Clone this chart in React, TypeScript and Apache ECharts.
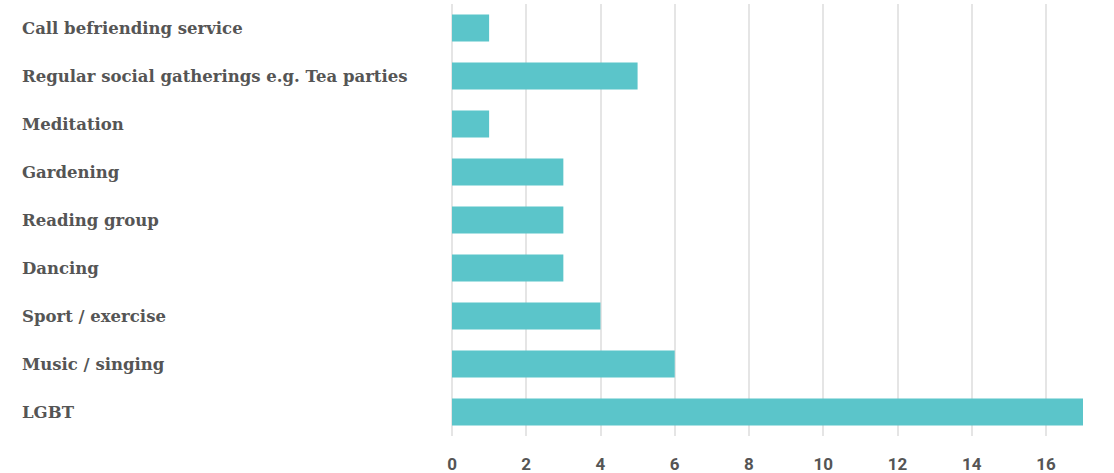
import React, { useEffect, useRef } from "react";
import * as echarts from "echarts";

const categories = [
  "Call befriending service",
  "Regular social gatherings e.g. Tea parties",
  "Meditation",
  "Gardening",
  "Reading group",
  "Dancing",
  "Sport / exercise",
  "Music / singing",
  "LGBT",
];
const values = [1, 5, 1, 3, 3, 3, 4, 6, 17];

export default function App() {
  const ref = useRef<HTMLDivElement>(null);
  useEffect(() => {
    const chart = echarts.init(ref.current!, null, { renderer: "svg" });
    const lineColors = ["#dcdcdc", "#dcdcdc", "#dcdcdc", "#dcdcdc", "#dcdcdc", "#dcdcdc", "#dcdcdc", "#dcdcdc", "#dcdcdc", "rgba(0,0,0,0)"];
    chart.setOption({
      animation: false,
      grid: { left: 452, right: 31, top: 4, height: 432, containLabel: false },
      xAxis: {
        type: "value",
        min: 0,
        max: 17,
        interval: 2,
        axisLine: { show: false },
        axisTick: { show: false },
        splitLine: { show: true, lineStyle: { color: lineColors, width: 1.5 } },
        axisLabel: {
          showMaxLabel: false,
          margin: 19,
          color: "#555",
          fontFamily: "Roboto",
          fontWeight: "bold",
          fontSize: 17,
        },
      },
      yAxis: {
        type: "category",
        inverse: true,
        data: categories,
        axisLine: { show: false },
        axisTick: { show: false },
        axisLabel: {
          align: "left",
          margin: 430,
          color: "#555",
          fontFamily: "DejaVu Serif",
          fontWeight: "bold",
          fontSize: 16.5,
          padding: [2, 0, 0, 0],
        },
      },
      series: [
        {
          type: "bar",
          data: values,
          barWidth: 27,
          itemStyle: { color: "#5bc5ca" },
        },
      ],
    });
    return () => chart.dispose();
  }, []);
  return <div ref={ref} style={{ width: 1114, height: 473, position: "absolute", left: 0, top: 0 }} />;
}
